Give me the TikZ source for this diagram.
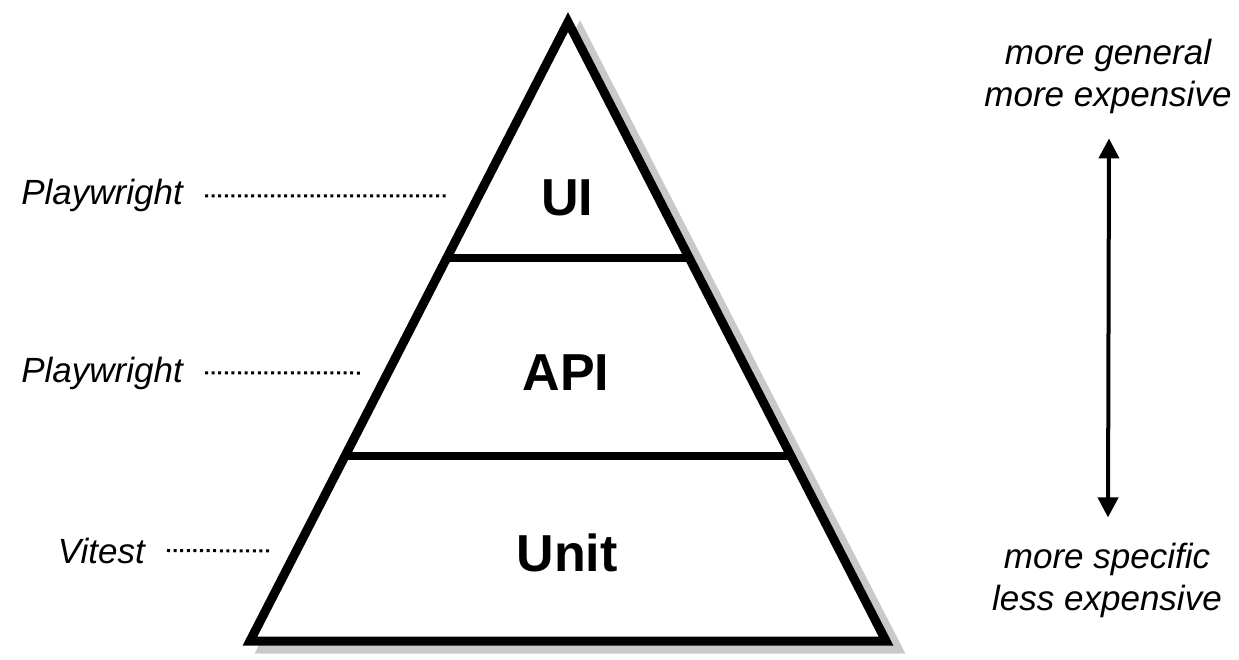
\documentclass[tikz,border=0pt]{standalone}
\usepackage{fontspec}
\setmainfont{Liberation Sans}
\usetikzlibrary{arrows.meta,calc}

\begin{document}
\begin{tikzpicture}[x=1pt,y=-1pt,
    layer/.style={font=\fontsize{52}{60}\selectfont\bfseries, inner sep=0pt, anchor=base},
    tool/.style={font=\fontsize{35}{42}\selectfont\itshape, inner sep=0pt, anchor=base east},
    side/.style={font=\fontsize{35}{42}\selectfont\itshape, inner sep=0pt, align=center, anchor=base},
    dotline/.style={line width=3pt, dash pattern=on 3pt off 3.6pt},
    divider/.style={line width=8pt},
    bothway/.style={line width=4pt, {Triangle[width=20pt,length=20pt]}-{Triangle[width=20pt,length=20pt]}}]
  \useasboundingbox (0,0) rectangle (1239,660);
  \coordinate (top) at (568,22);
  \coordinate (bl) at (250,641);
  \coordinate (br) at (886,641);
  \fill[black!21, draw=black!21, line width=9pt, line join=miter]
    ($(top)+(12,8)$) -- ($(bl)+(12,8)$) -- ($(br)+(12,8)$) -- cycle;
  \filldraw[fill=white, draw=black, line width=9pt, line join=miter]
    (top) -- (bl) -- (br) -- cycle;
  \draw[divider] ($(top)!0.3816!(bl)$) -- ($(top)!0.3816!(br)$);
  \draw[divider] ($(top)!0.7017!(bl)$) -- ($(top)!0.7017!(br)$);
  \node[layer] (ui) at (567,216) {UI};
  \node[layer] (api) at (566,390) {API};
  \node[layer] (unit) at (567,571) {Unit};
  \node[tool] (pw1) at (183,205) {Playwright};
  \node[tool] (pw2) at (183,382) {Playwright};
  \node[tool] (vt) at (145,563) {Vitest};
  \coordinate (pw1e) at (447,196);
  \coordinate (pw2e) at (360,373);
  \coordinate (vte) at (270,551);
  \draw[dotline] ([xshift=22pt]pw1.east) -- (pw1e);
  \draw[dotline] ([xshift=22pt]pw2.east) -- (pw2e);
  \draw[dotline] ([xshift=22pt]vt.east) -- (vte);
  \node[side] (gen) at (1108,107) {more general\\more expensive};
  \node[side] (spec) at (1107,610) {more specific\\less expensive};
  \draw[bothway] ([xshift=1pt,yshift=25pt]spec.north) -- ([xshift=1pt,yshift=-24pt]gen.south);
\end{tikzpicture}
\end{document}
